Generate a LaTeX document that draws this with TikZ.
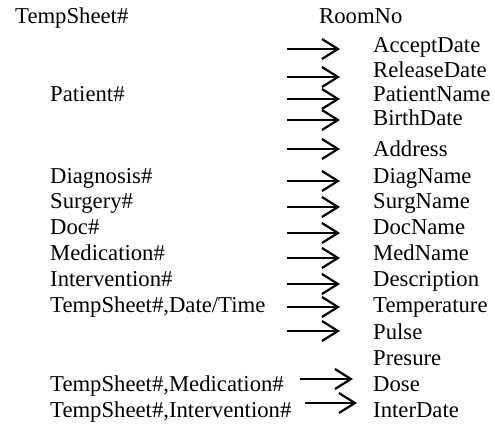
\documentclass[tikz,border=0pt]{standalone}
\usepackage{fontspec}
\setmainfont{Liberation Serif}
\usetikzlibrary{arrows.meta}

\begin{document}
\begin{tikzpicture}[x=1pt,y=-1pt,
	attr/.style={anchor=base west,inner sep=0pt,font=\fontsize{22.7}{27}\selectfont},
	fd/.style={line width=2.2pt,-{Straight Barb[length=16pt,width=20pt]}}]

\useasboundingbox (0,0) rectangle (495,425);

% keys
\node[attr] (tsheet) at (15,24) {TempSheet\#};
\node[attr] (patient) at (50,101.5) {Patient\#};
\node[attr] (diag) at (50,183) {Diagnosis\#};
\node[attr] (surg) at (50,208) {Surgery\#};
\node[attr] (doc) at (50,234) {Doc\#};
\node[attr] (med) at (50,260) {Medication\#};
\node[attr] (inter) at (50,286) {Intervention\#};
\node[attr] (tsdate) at (50,312) {TempSheet\#,Date/Time};
\node[attr] (tsmed) at (50,391) {TempSheet\#,Medication\#};
\node[attr] (tsinter) at (50,417) {TempSheet\#,Intervention\#};

% attributes
\node[attr] (roomno) at (319,24) {RoomNo};
\foreach \n/\t/\y in {acceptdate/AcceptDate/53, releasedate/ReleaseDate/78,
	patientname/PatientName/101.5, birthdate/BirthDate/125, address/Address/157,
	diagname/DiagName/183, surgname/SurgName/208, docname/DocName/234,
	medname/MedName/260, description/Description/286, temperature/Temperature/312,
	pulse/Pulse/339, presure/Presure/365, dose/Dose/391, interdate/InterDate/417}{
	\node[attr] (\n) at (373,\y) {\t};
}

% dependencies
\foreach \i/\y in {1/49,2/77,3/99,4/120,5/149,6/181,7/207,8/233,9/258,10/284,11/307,12/331}{
	\coordinate (s\i) at (287,\y);
	\coordinate (e\i) at (340,\y);
	\draw[fd] (s\i)--(e\i);
}

\coordinate (s13) at (300,379);
\coordinate (e13) at (353,379);
\draw[fd] (s13)--(e13);

\coordinate (s14) at (305,403);
\coordinate (e14) at (357,403);
\draw[fd] (s14)--(e14);

\end{tikzpicture}
\end{document}
